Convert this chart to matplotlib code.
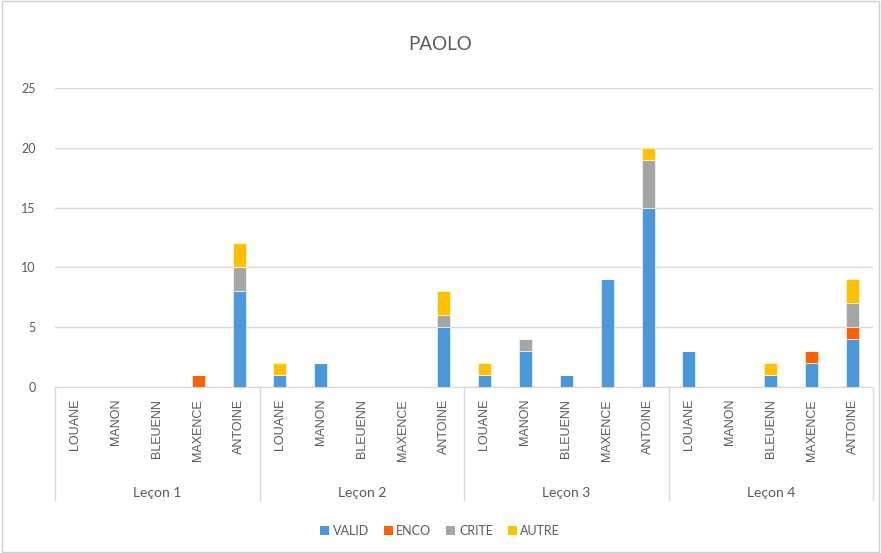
import numpy as np
import matplotlib
matplotlib.use("Agg")
import matplotlib.pyplot as plt
from matplotlib.patches import Patch, Rectangle

plt.rcParams['font.family'] = ['Lato', 'DejaVu Sans']

lessons = ["Leçon 1", "Leçon 2", "Leçon 3", "Leçon 4"]
students = ["LOUANE", "MANON", "BLEUENN", "MAXENCE", "ANTOINE"]
series = ["VALID", "ENCO", "CRITE", "AUTRE"]
colors = ["#4A98D9", "#FF6000", "#A5A5A5", "#FFC000"]

# one value per student, lesson after lesson
valid = [0, 0, 0, 0, 8,
         1, 2, 0, 0, 5,
         1, 3, 1, 9, 15,
         3, 0, 1, 2, 4]
enco = [0, 0, 0, 1, 0,
        0, 0, 0, 0, 0,
        0, 0, 0, 0, 0,
        0, 0, 0, 1, 1]
crite = [0, 0, 0, 0, 2,
         0, 0, 0, 0, 1,
         0, 1, 0, 0, 4,
         0, 0, 0, 0, 2]
autre = [0, 0, 0, 0, 2,
         1, 0, 0, 0, 2,
         1, 0, 0, 0, 1,
         0, 0, 1, 0, 2]

W, H = 881, 553
fig = plt.figure(figsize=(W / 100, H / 100), dpi=100)
ax = fig.add_axes([55 / W, (H - 387) / H, (873 - 55) / W, (387 - 88) / H])

n = len(lessons) * len(students)
x = np.arange(n)
bottom = np.zeros(n)
for name, vals, col in zip(series, [valid, enco, crite, autre], colors):
    vals = np.array(vals, dtype=float)
    ax.bar(x, vals, width=0.32, bottom=bottom, color=col, label=name,
           edgecolor="white", linewidth=0.4, zorder=3)
    bottom += vals

ax.set_xlim(-0.5, n - 0.5)
ax.set_ylim(0, 25)
ax.set_yticks(range(0, 26, 5))
ax.yaxis.grid(True, color="#D9D9D9", linewidth=1.0, zorder=0)
ax.tick_params(axis="y", length=0, labelsize=9, labelcolor="#595959", pad=14)
ax.tick_params(axis="x", length=0, labelbottom=False)
for side in ["left", "right", "top"]:
    ax.spines[side].set_visible(False)
ax.spines["bottom"].set_color("#D9D9D9")

# student names, rotated under each bar
tr = ax.get_xaxis_transform()
for i in range(n):
    ax.text(i, -0.04, students[i % len(students)], rotation=90, ha="center",
            va="top", fontsize=9, color="#595959", transform=tr,
            family=["Liberation Sans", "DejaVu Sans"])

# lesson group labels and separators
sep_bottom = -(500 - 387) / (387 - 88)
for g, lesson in enumerate(lessons):
    ax.text(g * 5 + 2, -(493 - 387) / (387 - 88), lesson, ha="center",
            va="center", fontsize=10, color="#595959", transform=tr)
for g in range(len(lessons) + 1):
    ax.plot([g * 5 - 0.5] * 2, [0, sep_bottom], color="#D9D9D9",
            linewidth=1.0, transform=tr, clip_on=False)

fig.text(440 / W, 1 - 45 / H, "PAOLO", ha="center", va="center",
         fontsize=13.5, color="#595959")

handles = [Patch(facecolor=c, label=s) for s, c in zip(series, colors)]
fig.legend(handles=handles, loc="center", bbox_to_anchor=(440 / W, 1 - 531 / H),
           ncol=4, frameon=False, fontsize=9, handlelength=0.7,
           handleheight=0.7, handletextpad=0.3, columnspacing=1.2,
           labelcolor="#595959")

fig.patches.append(Rectangle((0.002, 0.002), 0.996, 0.996, transform=fig.transFigure,
                             fill=False, edgecolor="#D0D0D0", linewidth=1.0))

fig.savefig("out.png", dpi=100)
